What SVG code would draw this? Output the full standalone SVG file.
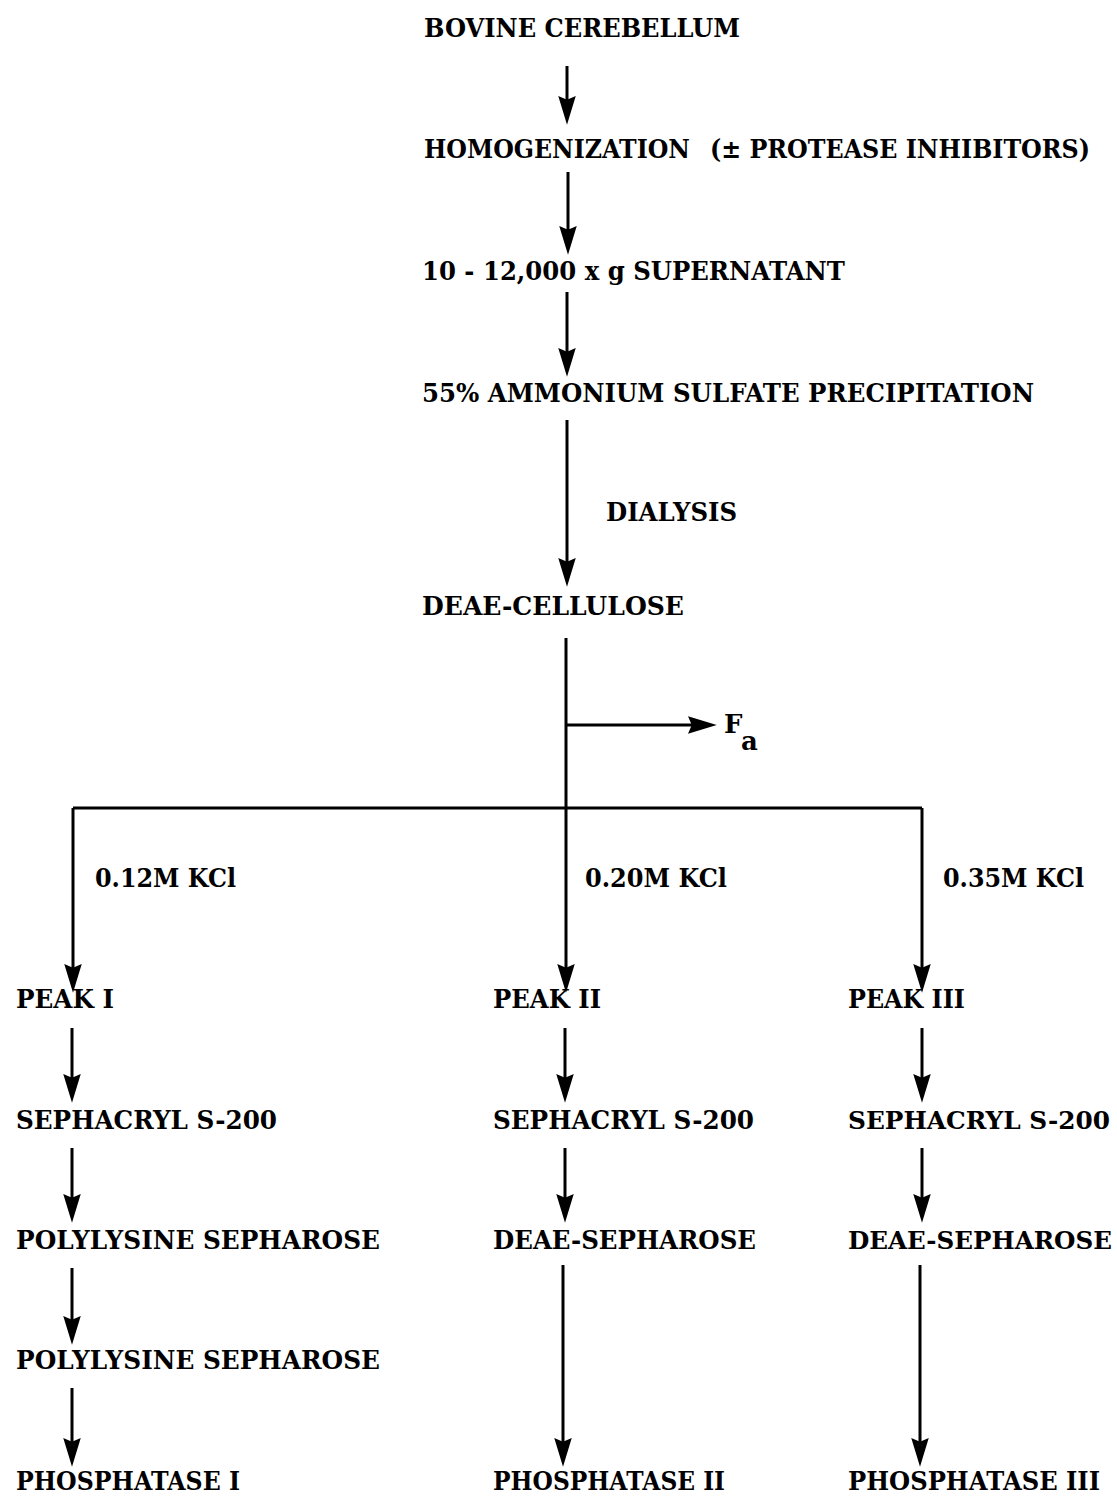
<svg xmlns="http://www.w3.org/2000/svg" width="1117" height="1496" viewBox="0 0 1117 1496">
<style>
text{font-family:"DejaVu Serif","Liberation Serif",serif;font-weight:bold;font-size:26px;fill:#000;}
.n3{font-size:24px;}
.c line,.c path{stroke:#000;stroke-width:3;fill:none;}
.a{marker-end:url(#ah);}
</style>
<defs>
<marker id="ah" markerUnits="userSpaceOnUse" markerWidth="30" markerHeight="20" viewBox="0 -8 24 16" refX="8" refY="0" orient="auto">
<path d="M0,-7 L23,0 L0,7 L3,0 z" fill="#000"/>
</marker>
</defs>
<rect width="1117" height="1496" fill="#fff"/>
<g class="c" id="connectors">
<line class="a" x1="567" y1="66" x2="567" y2="106"/>
<line class="a" x1="568" y1="172" x2="568" y2="236"/>
<line class="a" x1="567" y1="292" x2="567" y2="358"/>
<line class="a" x1="567" y1="420" x2="567" y2="568"/>
<line class="a" x1="566" y1="638" x2="566" y2="974"/>
<line class="a" x1="566" y1="725" x2="698" y2="725"/>
<path d="M73,808 L922,808"/>
<line class="a" x1="73" y1="808" x2="73" y2="974"/>
<line class="a" x1="922" y1="808" x2="922" y2="974"/>
<line class="a" x1="72" y1="1028" x2="72" y2="1084"/>
<line class="a" x1="72" y1="1148" x2="72" y2="1204"/>
<line class="a" x1="72" y1="1268" x2="72" y2="1326"/>
<line class="a" x1="72" y1="1388" x2="72" y2="1448"/>
<line class="a" x1="565" y1="1028" x2="565" y2="1084"/>
<line class="a" x1="565" y1="1148" x2="565" y2="1204"/>
<line class="a" x1="563" y1="1265" x2="563" y2="1448"/>
<line class="a" x1="922" y1="1028" x2="922" y2="1084"/>
<line class="a" x1="922" y1="1148" x2="922" y2="1204"/>
<line class="a" x1="920" y1="1265" x2="920" y2="1448"/>
</g>
<g id="n-bovine"><text x="424" y="37" textLength="316" lengthAdjust="spacingAndGlyphs">BOVINE CEREBELLUM</text></g>
<g id="n-homog"><text x="424" y="158" textLength="266" lengthAdjust="spacingAndGlyphs">HOMOGENIZATION</text><text x="710" y="158" font-size="22" textLength="380" lengthAdjust="spacingAndGlyphs">(± PROTEASE INHIBITORS)</text></g>
<g id="n-super"><text x="422" y="280" textLength="423" lengthAdjust="spacingAndGlyphs">10 - 12,000 x g SUPERNATANT</text></g>
<g id="n-ammon"><text x="422" y="402" textLength="612" lengthAdjust="spacingAndGlyphs">55% AMMONIUM SULFATE PRECIPITATION</text></g>
<g id="l-dialysis"><text x="606" y="521" textLength="131" lengthAdjust="spacingAndGlyphs">DIALYSIS</text></g>
<g id="n-deae-cell"><text x="422" y="615" textLength="262" lengthAdjust="spacingAndGlyphs">DEAE-CELLULOSE</text></g>
<g id="n-fa"><text x="724" y="733">F</text><text x="741" y="750">a</text></g>
<g id="l-kcl1"><text x="95" y="887" textLength="141" lengthAdjust="spacingAndGlyphs">0.12M KCl</text></g>
<g id="l-kcl2"><text x="585" y="887" textLength="142" lengthAdjust="spacingAndGlyphs">0.20M KCl</text></g>
<g id="l-kcl3"><text x="943" y="887" textLength="141" lengthAdjust="spacingAndGlyphs">0.35M KCl</text></g>
<g id="n-peak1"><text x="16" y="1008" textLength="98" lengthAdjust="spacingAndGlyphs">PEAK I</text></g>
<g id="n-peak2"><text x="493" y="1008" textLength="108" lengthAdjust="spacingAndGlyphs">PEAK II</text></g>
<g id="n-peak3"><text x="848" y="1008" textLength="117" lengthAdjust="spacingAndGlyphs">PEAK III</text></g>
<g id="n-seph1"><text x="16" y="1129" textLength="261" lengthAdjust="spacingAndGlyphs">SEPHACRYL S-200</text></g>
<g id="n-seph2"><text x="493" y="1129" textLength="261" lengthAdjust="spacingAndGlyphs">SEPHACRYL S-200</text></g>
<g id="n-seph3"><text class="n3" x="848" y="1129" textLength="262" lengthAdjust="spacingAndGlyphs">SEPHACRYL S-200</text></g>
<g id="n-poly1"><text x="16" y="1249" textLength="364" lengthAdjust="spacingAndGlyphs">POLYLYSINE SEPHAROSE</text></g>
<g id="n-deaes2"><text x="493" y="1249" textLength="263" lengthAdjust="spacingAndGlyphs">DEAE-SEPHAROSE</text></g>
<g id="n-deaes3"><text class="n3" x="848" y="1249" textLength="264" lengthAdjust="spacingAndGlyphs">DEAE-SEPHAROSE</text></g>
<g id="n-poly2"><text x="16" y="1369" textLength="364" lengthAdjust="spacingAndGlyphs">POLYLYSINE SEPHAROSE</text></g>
<g id="n-phos1"><text x="16" y="1490" textLength="224" lengthAdjust="spacingAndGlyphs">PHOSPHATASE I</text></g>
<g id="n-phos2"><text x="493" y="1490" textLength="232" lengthAdjust="spacingAndGlyphs">PHOSPHATASE II</text></g>
<g id="n-phos3"><text x="848" y="1490" textLength="252" lengthAdjust="spacingAndGlyphs">PHOSPHATASE III</text></g>
</svg>
